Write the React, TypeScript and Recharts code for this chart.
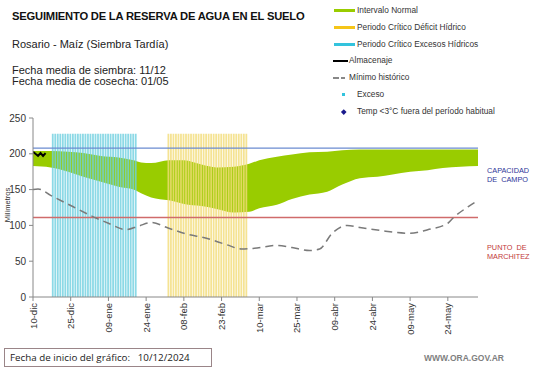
import React from "react";
import {
  Area,
  Bar,
  ComposedChart,
  Line,
  ReferenceLine,
  XAxis,
  YAxis,
} from "recharts";

// Días desde el 10/12/2024 y marcas del eje
const tickDias = [0, 15, 30, 45, 60, 75, 90, 105, 120, 135, 150, 165];
const tickFechas = [
  "10-dic", "25-dic", "09-ene", "24-ene", "08-feb", "23-feb",
  "10-mar", "25-mar", "09-abr", "24-abr", "09-may", "24-may",
];
const DIA_FINAL = 177;

// Intervalo normal (banda verde)
const bandaDias = [0, 7, 14, 20, 27, 34, 40, 43, 47, 54, 60, 67, 73, 80, 86, 90, 97, 103, 110, 117, 123, 130, 137, 143, 150, 157, 163, 170, 177];
const bandaSup = [204, 204, 203, 201, 197, 195, 191, 188, 187, 191, 191, 185, 181, 182, 186, 191, 196, 199, 202, 203, 205, 206, 206, 206, 206, 206, 206, 206, 206];
const bandaInf = [183, 181, 175, 168, 161, 154, 150, 145, 139, 135, 130, 127, 123, 118, 119, 124, 129, 137, 143, 147, 157, 166, 168, 171, 175, 177, 180, 182, 183];

// Mínimo histórico
const minimoDias = [0, 2, 7, 16, 24, 30, 37, 42, 47, 54, 61, 69, 77, 83, 88, 97, 103, 110, 114, 119, 125, 130, 138, 150, 157, 165, 167, 173, 177];
const minimoVal = [150, 151, 142, 126, 112, 103, 94, 99, 104, 96, 88, 82, 73, 67, 68, 72, 69, 65, 67, 89, 100, 97, 93, 89, 94, 103, 110, 126, 135];

// Almacenaje observado
const almacenajeDias = [0, 2, 3, 4, 5];
const almacenajeVal = [203, 197, 201, 197, 201];

// Períodos críticos (día inicial, día final) y altura de las barras
const periodoExceso = [8, 41];
const periodoDeficit = [54, 85];
const ALTURA_PERIODO = 228;

const CAPACIDAD_CAMPO = 208;
const PUNTO_MARCHITEZ = 111;

const VERDE = "#99cc00";
const CIAN = "#6fcfe0";
const AMARILLO = "#f3dc78";

const bandaData = bandaDias.map((d, i) => ({ dia: d, rango: [bandaInf[i], bandaSup[i]] }));
const minimoData = minimoDias.map((d, i) => ({ dia: d, minimo: minimoVal[i] }));
const almacenajeData = almacenajeDias.map((d, i) => ({ dia: d, alm: almacenajeVal[i] }));

const diasData: { dia: number; exceso: number | null; deficit: number | null }[] = [];
for (let d = 0; d <= DIA_FINAL; d++) {
  diasData.push({
    dia: d,
    exceso: d >= periodoExceso[0] && d <= periodoExceso[1] ? ALTURA_PERIODO : null,
    deficit: d >= periodoDeficit[0] && d <= periodoDeficit[1] ? ALTURA_PERIODO : null,
  });
}

function FechaTick({ x, y, payload }: any) {
  const i = tickDias.indexOf(payload.value);
  return (
    <text
      x={x}
      y={y}
      transform={`rotate(-90 ${x} ${y})`}
      textAnchor="end"
      dy={3.5}
      fontSize={9.5}
      fill="#333"
    >
      {tickFechas[i]}
    </text>
  );
}

const legendItems = [
  { label: "Intervalo Normal", kind: "bar", color: VERDE },
  { label: "Periodo Crítico Déficit Hídrico", kind: "bar", color: "#f5c518" },
  { label: "Periodo Crítico Excesos Hídricos", kind: "bar", color: "#33c3dd" },
  { label: "Almacenaje", kind: "line", color: "#000" },
  { label: "Mínimo histórico", kind: "dash", color: "#888" },
  { label: "Exceso", kind: "dot", color: "#33c3dd" },
  { label: "Temp <3°C fuera del período habitual", kind: "diamond", color: "#1a1a8c" },
];

function Swatch({ kind, color }: { kind: string; color: string }) {
  if (kind === "bar")
    return <span style={{ position: "absolute", left: 334, width: 21, height: 3, top: -2, background: color }} />;
  if (kind === "line")
    return <span style={{ position: "absolute", left: 333, width: 15, height: 2, top: -1, background: color }} />;
  if (kind === "dash")
    return (
      <>
        <span style={{ position: "absolute", left: 333, width: 6, height: 1.5, top: -1, background: color }} />
        <span style={{ position: "absolute", left: 341, width: 4, height: 1.5, top: -1, background: color }} />
      </>
    );
  if (kind === "dot")
    return <span style={{ position: "absolute", left: 342, width: 3, height: 3, top: -2, background: color }} />;
  return (
    <span
      style={{ position: "absolute", left: 342, width: 3.5, height: 3.5, top: -2, background: color, transform: "rotate(45deg)" }}
    />
  );
}

export default function App() {
  const font = "'Liberation Sans', Arial, sans-serif";
  return (
    <div style={{ position: "absolute", left: 0, top: 0, width: 541, height: 368, background: "#fff", fontFamily: font, overflow: "hidden" }}>
      <div style={{ position: "absolute", left: 12, top: 10, fontSize: 11.2, fontWeight: "bold", color: "#111", whiteSpace: "nowrap", letterSpacing: -0.2 }}>
        SEGUIMIENTO DE LA RESERVA DE AGUA EN EL SUELO
      </div>
      <div style={{ position: "absolute", left: 12, top: 38, fontSize: 11, color: "#222", whiteSpace: "nowrap" }}>
        Rosario - Maíz (Siembra Tardía)
      </div>
      <div style={{ position: "absolute", left: 12, top: 65, fontSize: 11, lineHeight: "11px", color: "#222", whiteSpace: "nowrap" }}>
        Fecha media de siembra: 11/12
        <br />
        Fecha media de cosecha: 01/05
      </div>

      {legendItems.map((it, i) => {
        const cy = 11 + i * 16.8;
        const tx = it.kind === "line" || it.kind === "dash" ? 349 : 357;
        return (
          <div key={it.label} style={{ position: "absolute", left: 0, top: cy, width: 541, height: 0 }}>
            <Swatch kind={it.kind} color={it.color} />
            <span style={{ position: "absolute", left: tx, top: -6, fontSize: 8.3, color: "#333", whiteSpace: "nowrap", lineHeight: "11px" }}>
              {it.label}
            </span>
          </div>
        );
      })}

      <ComposedChart
        width={541}
        height={368}
        data={diasData}
        margin={{ top: 118, right: 63, bottom: 0, left: 0 }}
        style={{ position: "absolute", left: 0, top: 0 }}
      >
        <XAxis
          dataKey="dia"
          type="number"
          domain={[0, DIA_FINAL]}
          ticks={tickDias}
          interval={0}
          height={71}
          tick={<FechaTick />}
          tickSize={4}
          stroke="#888"
          allowDataOverflow
        />
        <YAxis
          width={33}
          domain={[0, 250]}
          ticks={[0, 50, 100, 150, 200, 250]}
          tickSize={4}
          tickMargin={3}
          stroke="#888"
          tick={{ fontSize: 10, fill: "#333", fontFamily: font }}
          allowDataOverflow
        />
        <Area
          data={bandaData}
          dataKey="rango"
          type="monotone"
          stroke="none"
          fill={VERDE}
          fillOpacity={1}
          isAnimationActive={false}
        />
        <Bar dataKey="exceso" stackId="p" fill={CIAN} fillOpacity={0.8} barSize={1.8} isAnimationActive={false} />
        <Bar dataKey="deficit" stackId="p" fill={AMARILLO} fillOpacity={0.8} barSize={1.8} isAnimationActive={false} />
        <ReferenceLine y={CAPACIDAD_CAMPO} stroke="#6b8bd1" strokeWidth={1.2} />
        <ReferenceLine y={PUNTO_MARCHITEZ} stroke="#d06b6b" strokeWidth={1.5} strokeOpacity={1} />
        <Line
          data={minimoData}
          dataKey="minimo"
          type="monotone"
          stroke="#7a7a7a"
          strokeWidth={1.5}
          strokeDasharray="8 5"
          dot={false}
          isAnimationActive={false}
        />
        <Line
          data={almacenajeData}
          dataKey="alm"
          type="linear"
          stroke="#000"
          strokeWidth={2}
          dot={false}
          isAnimationActive={false}
        />
      </ComposedChart>

      <div style={{ position: "absolute", left: 0, top: 205, width: 12, height: 0 }}>
        <span style={{ position: "absolute", left: 7, top: 0, fontSize: 7.5, color: "#333", whiteSpace: "nowrap", transform: "translate(-50%, -50%) rotate(-90deg)" }}>
          Milímetros
        </span>
      </div>

      <div style={{ position: "absolute", left: 487, top: 166, fontSize: 7.3, lineHeight: "9px", color: "#2f3699", whiteSpace: "nowrap", wordSpacing: 2 }}>
        CAPACIDAD
        <br />
        DE CAMPO
      </div>
      <div style={{ position: "absolute", left: 487, top: 243, fontSize: 7.3, lineHeight: "9px", color: "#c23a3a", whiteSpace: "nowrap", wordSpacing: 2 }}>
        PUNTO DE
        <br />
        MARCHITEZ
      </div>

      <div style={{ position: "absolute", left: 4, top: 348, width: 208, height: 19, border: "1px solid #9a8588", boxSizing: "border-box", fontSize: 9.8, color: "#222", lineHeight: "17px", paddingLeft: 5, whiteSpace: "nowrap", fontFamily: "'Open Sans', sans-serif" }}>
        Fecha de inicio del gráfico:&nbsp;&nbsp; 10/12/2024
      </div>
      <div style={{ position: "absolute", left: 424, top: 353, fontSize: 8.5, fontWeight: "bold", color: "#7f7f7f", whiteSpace: "nowrap" }}>
        WWW.ORA.GOV.AR
      </div>
    </div>
  );
}
